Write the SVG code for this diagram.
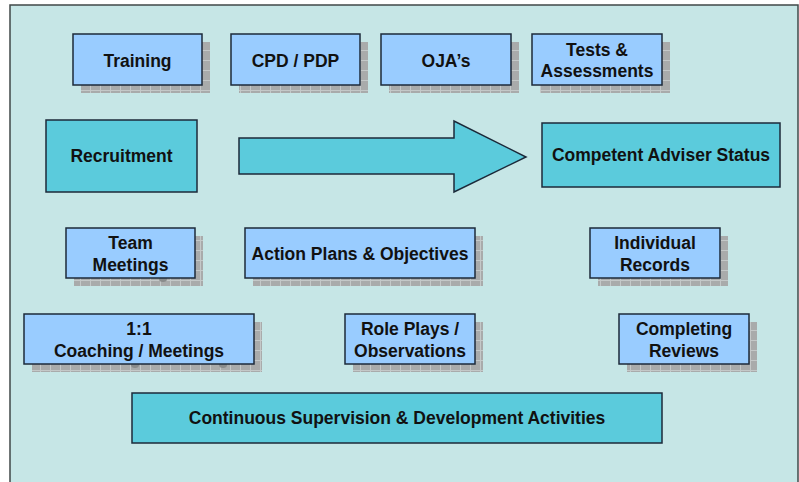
<svg xmlns="http://www.w3.org/2000/svg" width="799" height="482" viewBox="0 0 799 482">
<style>
  .lb{fill:#99ccff;stroke:#1c2a3a;stroke-width:1.5}
  .tl{fill:#5bcbdc;stroke:#1c2a3a;stroke-width:1.5}
  .sh{fill:url(#grid)}
  text{font-family:"Liberation Sans",Arial,sans-serif;font-weight:bold;font-size:17.5px;fill:#111;text-anchor:middle}
</style>
<defs>
  <pattern id="grid" patternUnits="userSpaceOnUse" width="10" height="10">
    <rect width="10" height="10" fill="#a9abab"/>
    <path d="M0 0.5H10M0.5 0V10" stroke="#c4c8c8" stroke-width="1"/>
  </pattern>
</defs>
<rect x="0" y="0" width="799" height="482" fill="#ffffff"/>
<rect x="10" y="5" width="788" height="490" fill="#c6e6e6" stroke="#404848" stroke-width="1.5"/>

<g id="connectors">
  <path id="arrow" class="tl" d="M239 138H454V121L526 157L454 192V174H239Z"/>
</g>

<g id="training">
  <rect class="sh" x="81" y="42" width="129" height="51"/>
  <rect class="lb" x="73" y="34" width="129" height="51"/>
  <text x="137.5" y="66.5">Training</text>
</g>
<g id="cpd">
  <rect class="sh" x="239" y="42" width="129" height="51"/>
  <rect class="lb" x="231" y="34" width="129" height="51"/>
  <text x="295.5" y="66.5">CPD / PDP</text>
</g>
<g id="oja">
  <rect class="sh" x="389" y="42" width="130" height="51"/>
  <rect class="lb" x="381" y="34" width="130" height="51"/>
  <text x="446" y="66.5">OJA’s</text>
</g>
<g id="tests">
  <rect class="sh" x="540" y="42" width="130" height="51"/>
  <rect class="lb" x="532" y="34" width="130" height="51"/>
  <text x="597" y="56">Tests &amp;</text>
  <text x="597" y="77">Assessments</text>
</g>

<g id="recruitment">
  <rect class="tl" x="46" y="120" width="151" height="72"/>
  <text x="121.5" y="162">Recruitment</text>
</g>
<g id="competent">
  <rect class="tl" x="542" y="123" width="238" height="64"/>
  <text x="661" y="161">Competent Adviser Status</text>
</g>

<g id="team">
  <rect class="sh" x="74" y="236" width="129" height="50"/>
  <ellipse cx="163" cy="279" rx="4" ry="3" fill="#8a8c8c"/>
  <rect class="lb" x="66" y="228" width="129" height="50"/>
  <text x="130.5" y="249">Team</text>
  <text x="130.5" y="271">Meetings</text>
</g>
<g id="action">
  <rect class="sh" x="253" y="236" width="230" height="50"/>
  <rect class="lb" x="245" y="228" width="230" height="50"/>
  <text x="360" y="260">Action Plans &amp; Objectives</text>
</g>
<g id="individual">
  <rect class="sh" x="598" y="236" width="130" height="50"/>
  <rect class="lb" x="590" y="228" width="130" height="50"/>
  <text x="655" y="249">Individual</text>
  <text x="655" y="271">Records</text>
</g>

<g id="coaching">
  <rect class="sh" x="32" y="322" width="230" height="50"/>
  <ellipse cx="135" cy="365" rx="4" ry="3" fill="#8a8c8c"/>
  <ellipse cx="223" cy="365" rx="4" ry="3" fill="#8a8c8c"/>
  <rect class="lb" x="24" y="314" width="230" height="50"/>
  <text x="139" y="335">1:1</text>
  <text x="139" y="357">Coaching / Meetings</text>
</g>
<g id="roleplays">
  <rect class="sh" x="353" y="322" width="130" height="50"/>
  <rect class="lb" x="345" y="314" width="130" height="50"/>
  <text x="410" y="335">Role Plays /</text>
  <text x="410" y="357">Observations</text>
</g>
<g id="reviews">
  <rect class="sh" x="627" y="322" width="130" height="50"/>
  <rect class="lb" x="619" y="314" width="130" height="50"/>
  <text x="684" y="335">Completing</text>
  <text x="684" y="357">Reviews</text>
</g>

<g id="continuous">
  <rect class="tl" x="132" y="393" width="530" height="50"/>
  <text x="397" y="424">Continuous Supervision &amp; Development Activities</text>
</g>
</svg>
